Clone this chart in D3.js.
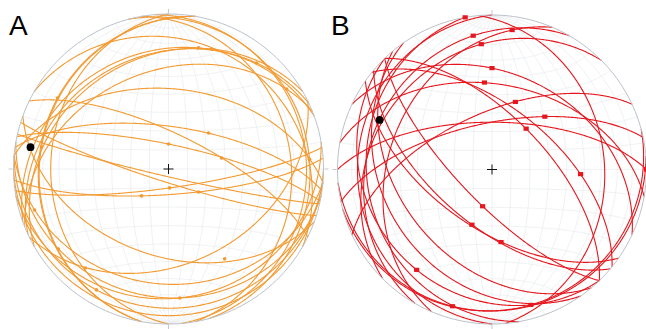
<!DOCTYPE html>
<html>
<head>
<meta charset="utf-8">
<script src="https://cdn.jsdelivr.net/npm/d3@7"></script>
<style>
  html, body { margin: 0; padding: 0; background: #fff; }
  svg { display: block; }
</style>
</head>
<body>
<svg id="chart" width="646" height="329"></svg>
<script>
// Net A: planes as strike (right-hand rule) / dip, lineation on each plane as trend / plunge
const strikeA = [250, 240, 245, 248, 190, 190, 278, 282, 296, 345, 82, 107.5, 86, 95, 100, 64, 95, 80, 110, 350, 180, 355, 275, 103, 90, 300];
const dipA = [24.4, 27.9, 26.6, 36.6, 17.4, 18, 67.6, 77.2, 71.4, 9.9, 80.1, 83, 76.6, 26.6, 18.2, 38.7, 11.2, 17.7, 43.3, 22, 25, 12, 47, 86, 6, 18.3];
const lineTrendA = [13.9, 19.7, 39.7, 55.9, 302.6, 279.8, 48, 0, 78.3, 86, 177, 127.5, 225, 253, 234, 220, 210.8, 175, 148, null, null, null, null, null, null, null];
const linePlungeA = [20.6, 18.9, 12.1, 8.8, 16.1, 18, 61.6, 76.9, 61.4, 9.7, 80.1, 70.1, 70, 10.6, 13.3, 17.8, 10.1, 17.6, 32.2, null, null, null, null, null, null, null];
const meanA = [279, 10.8]; // trend, plunge

// Net B
const strikeB = [170, 210, 203, 225, 295, 280, 245, 258, 316, 309, 136, 130, 125, 136, 85, 75, 140, 145, 180, 355, 270];
const dipB = [20, 21.5, 33.8, 25.1, 37.4, 44, 60.4, 65.4, 62, 57, 72.8, 60.4, 59, 20.1, 9.3, 9.7, 40, 30, 14, 28, 65];
const lineTrendB = [350, 352, 8.2, 355.1, 0, 355, 19.1, 45, 39.9, 93, 194.3, 200, 172.9, 216.9, 196.1, 164, null, null, null, null, 90];
const linePlungeB = [0, 13.6, 9.7, 19.7, 34.7, 42.9, 51.8, 50, 61.8, 42.1, 70, 58.8, 50.9, 19.9, 8.7, 9.7, null, null, null, null, 0];
const meanB = [293.8, 21.6];

const rad = Math.PI / 180, deg = 180 / Math.PI;

// lower hemisphere line (trend, plunge) -> lon/lat of the net
function toLonLat(trend, plunge) {
  const t = trend * rad, p = plunge * rad;
  const down = Math.sin(p);
  const east = Math.cos(p) * Math.sin(t);
  const north = Math.cos(p) * Math.cos(t);
  return [Math.atan2(east, down) * deg, Math.asin(Math.max(-1, Math.min(1, north))) * deg];
}

const svg = d3.select('#chart');

function drawNet(opts) {
  const proj = d3.geoAzimuthalEqualArea()
    .scale(opts.r / Math.SQRT2)
    .translate([opts.cx, opts.cy])
    .clipAngle(90)
    .precision(0.2);
  const path = d3.geoPath(proj);
  const g = svg.append('g');

  g.append('path')
    .datum({ type: 'Sphere' })
    .attr('d', path)
    .attr('fill', '#fff');

  const grat = d3.geoGraticule()
    .step([10, 10])
    .extentMinor([[-180, -90], [180, 90]])
    .precision(1);
  g.append('path')
    .datum(grat())
    .attr('d', path)
    .attr('fill', 'none')
    .attr('stroke', '#e4e7eb')
    .attr('stroke-width', 0.6);

  // cardinal ticks
  const ticks = [[0, -1], [1, 0], [0, 1], [-1, 0]];
  g.selectAll('line.tick')
    .data(ticks)
    .enter()
    .append('line')
    .attr('x1', d => opts.cx + d[0] * (opts.r + 1))
    .attr('y1', d => opts.cy + d[1] * (opts.r + 1))
    .attr('x2', d => opts.cx + d[0] * (opts.r + 5))
    .attr('y2', d => opts.cy + d[1] * (opts.r + 5))
    .attr('stroke', '#c3c7cf')
    .attr('stroke-width', 1);

  // great circles
  const circles = opts.strike.map((s, i) => {
    const pole = toLonLat(s - 90, 90 - opts.dip[i]);
    const ring = d3.geoCircle().center(pole).radius(90).precision(0.5)().coordinates[0];
    return { type: 'LineString', coordinates: ring };
  });
  g.selectAll('path.plane')
    .data(circles)
    .enter()
    .append('path')
    .attr('class', 'plane')
    .attr('d', path)
    .attr('fill', 'none')
    .attr('stroke', opts.color)
    .attr('stroke-width', 1.1);

  g.append('path')
    .datum({ type: 'Sphere' })
    .attr('d', path)
    .attr('fill', 'none')
    .attr('stroke', '#bcc1ca')
    .attr('stroke-width', 1);

  // lineations
  const pts = opts.trend
    .map((t, i) => (t === null ? null : proj(toLonLat(t, opts.plunge[i]))))
    .filter(p => p);
  if (opts.square) {
    g.selectAll('rect.lin')
      .data(pts)
      .enter()
      .append('rect')
      .attr('x', d => d[0] - 2.6)
      .attr('y', d => d[1] - 2.1)
      .attr('width', 5.2)
      .attr('height', 4.2)
      .attr('fill', opts.color);
  } else {
    g.selectAll('circle.lin')
      .data(pts)
      .enter()
      .append('circle')
      .attr('cx', d => d[0])
      .attr('cy', d => d[1])
      .attr('r', 1.8)
      .attr('fill', opts.color);
  }

  const m = proj(toLonLat(opts.mean[0], opts.mean[1]));
  g.append('circle')
    .attr('cx', m[0])
    .attr('cy', m[1])
    .attr('r', 3.9)
    .attr('fill', '#000');

  // centre cross
  g.append('path')
    .attr('d', `M${opts.cx - 5},${opts.cy}H${opts.cx + 5}M${opts.cx},${opts.cy - 5}V${opts.cy + 5}`)
    .attr('stroke', '#111')
    .attr('stroke-width', 1);

  svg.append('text')
    .attr('x', opts.labelX)
    .attr('y', 35)
    .attr('font-family', 'Liberation Sans, Arial, sans-serif')
    .attr('font-size', 28)
    .attr('fill', '#000')
    .text(opts.label);
}

drawNet({
  cx: 168.5, cy: 169, r: 155, color: '#f39a30', square: false,
  strike: strikeA, dip: dipA, trend: lineTrendA, plunge: linePlungeA, mean: meanA,
  label: 'A', labelX: 9
});
drawNet({
  cx: 492, cy: 169.5, r: 154.5, color: '#e5161d', square: true,
  strike: strikeB, dip: dipB, trend: lineTrendB, plunge: linePlungeB, mean: meanB,
  label: 'B', labelX: 331
});
</script>
</body>
</html>
